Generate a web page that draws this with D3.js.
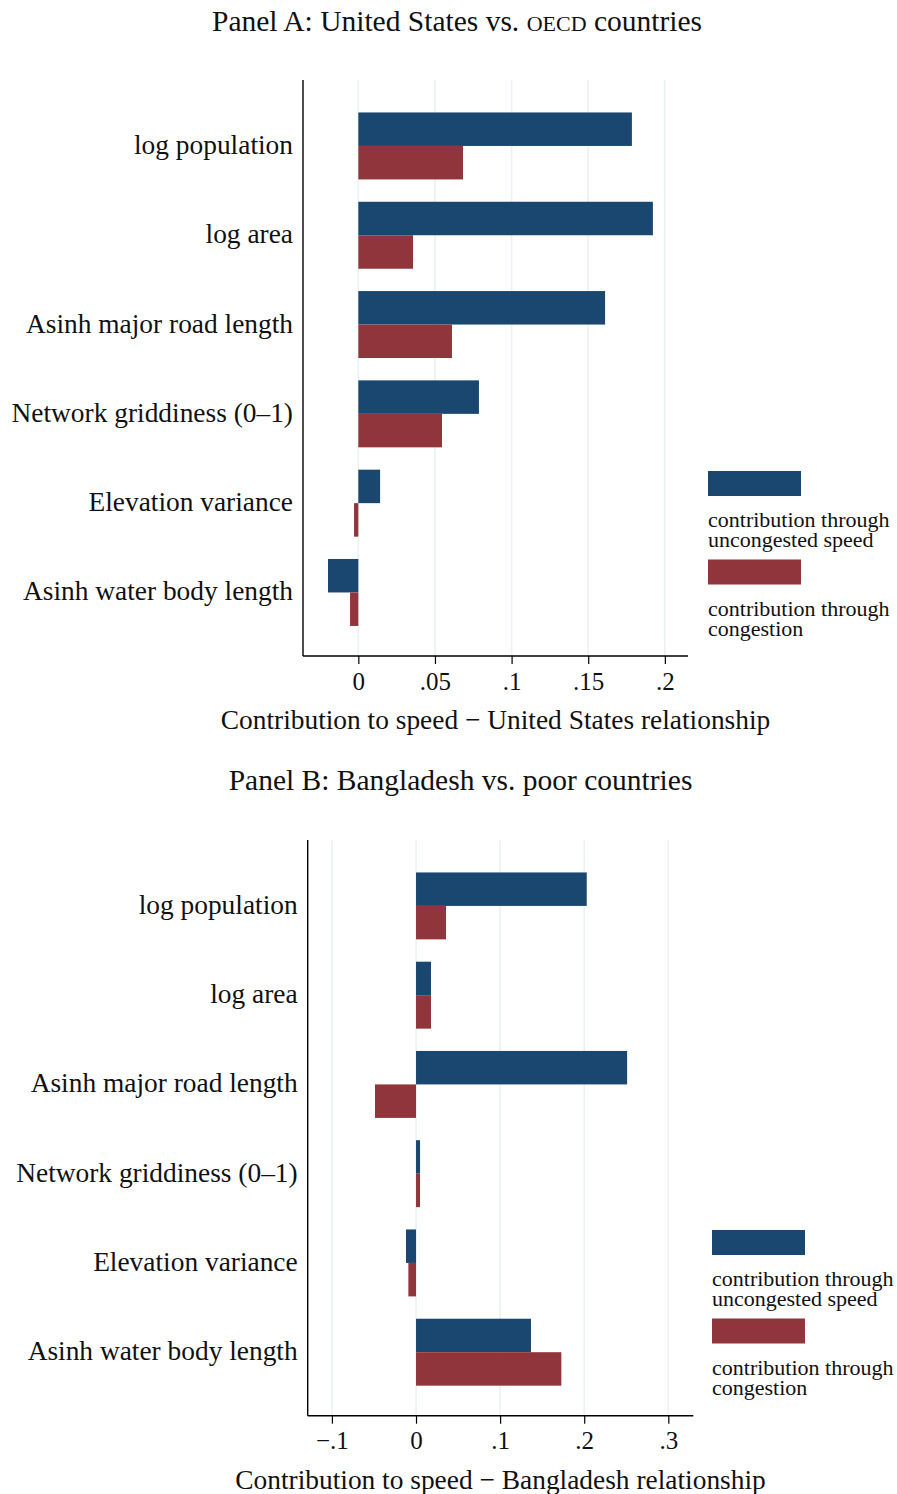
<!DOCTYPE html>
<html>
<head>
<meta charset="utf-8">
<script src="https://cdn.jsdelivr.net/npm/d3@7"></script>
<style>
  body { margin: 0; background: #fff; }
  svg text { font-family: "Liberation Serif", "Times New Roman", serif; fill: #111; }
</style>
</head>
<body>
<div id="chart"></div>
<script>
// Categories (top to bottom) and the two contributions for each panel.
const categories = [
  "log population",
  "log area",
  "Asinh major road length",
  "Network griddiness (0–1)",
  "Elevation variance",
  "Asinh water body length"
]
const seriesNames = ["contribution through uncongested speed", "contribution through congestion"]

const usUncongested = [0.1785, 0.1922, 0.161, 0.0787, 0.0142, -0.0198]
const usCongestion = [0.0683, 0.0357, 0.0611, 0.0546, -0.0028, -0.0054]
const usTicks = [0, 0.05, 0.1, 0.15, 0.2]

const bdUncongested = [0.203, 0.0178, 0.251, 0.0048, -0.0119, 0.1367]
const bdCongestion = [0.0357, 0.0178, -0.0488, 0.0048, -0.0091, 0.1728]
const bdTicks = [-0.1, 0, 0.1, 0.2, 0.3]

const colors = ["#1a476f", "#90353b"]

const svg = d3.select("#chart")
  .append("svg")
  .attr("width", 897)
  .attr("height", 1494)

// Stata style tick labels: ".05", "−.1"
const fmtTick = function (d) {
  if (d === 0) return "0"
  let s = String(Math.abs(d)).replace(/^0\./, ".")
  return (d < 0 ? "\u2212" : "") + s
}

const drawPanel = (opts) => {
  let g = svg.append("g")

  // Title, with "OECD" set in small caps style
  let title = g.append("text")
    .attr("x", opts.titleX)
    .attr("y", opts.titleY)
    .attr("text-anchor", "middle")
    .style("font-size", "29.5px")
  opts.title.forEach(function (part) {
    title.append("tspan")
      .style("font-size", part.sc ? "22px" : null)
      .text(part.text)
  })

  let x = d3.scaleLinear()
    .domain(opts.xDomain)
    .range([opts.left, opts.right])

  // bars sit about a pixel lower than the frame centre
  let y = d3.scaleBand()
    .domain(categories)
    .range([opts.top + 1.2, opts.bottom + 1.2])
    .paddingInner(0.25)
    .paddingOuter(0.35)

  let ySub = d3.scaleBand()
    .domain([0, 1])
    .range([0, y.bandwidth()])

  // Vertical grid lines at the ticks
  g.append("g")
    .selectAll("line")
    .data(opts.ticks)
    .join("line")
    .attr("x1", d => x(d))
    .attr("x2", d => x(d))
    .attr("y1", opts.top)
    .attr("y2", opts.bottom)
    .attr("stroke", "#eaf2f3")
    .attr("stroke-width", 1.6)

  // Bars
  let rows = categories.map(function (c, i) {
    return {cat: c, vals: [opts.uncongested[i], opts.congestion[i]]}
  })
  g.append("g")
    .selectAll("g")
    .data(rows)
    .join("g")
    .attr("transform", d => "translate(0," + y(d.cat) + ")")
    .selectAll("rect")
    .data(d => d.vals.map((v, k) => ({v: v, k: k})))
    .join("rect")
    .attr("x", d => x(Math.min(0, d.v)))
    .attr("width", d => Math.abs(x(d.v) - x(0)))
    .attr("y", d => ySub(d.k))
    .attr("height", ySub.bandwidth())
    .attr("fill", d => colors[d.k])

  // Category labels
  g.append("g")
    .selectAll("text")
    .data(categories)
    .join("text")
    .attr("x", opts.left - 10)
    .attr("y", d => y(d) + y.bandwidth() / 2 + 8)
    .attr("text-anchor", "end")
    .style("font-size", "27.4px")
    .text(d => d)

  // Y axis line
  g.append("line")
    .attr("x1", opts.left).attr("x2", opts.left)
    .attr("y1", opts.top).attr("y2", opts.bottom)
    .attr("stroke", "#000")
    .attr("stroke-width", 1.4)

  // X axis
  let xAxis = d3.axisBottom(x)
    .tickValues(opts.ticks)
    .tickFormat(fmtTick)
    .tickSize(8)
    .tickPadding(8)
  let ax = g.append("g")
    .attr("transform", "translate(0," + opts.bottom + ")")
    .call(xAxis)
  ax.select(".domain")
    .attr("d", "M" + opts.left + ",0H" + opts.right)
    .attr("stroke-width", 1.4)
  ax.selectAll(".tick line").attr("stroke-width", 1.2)
  ax.selectAll(".tick text")
    .attr("fill", "#111")
    .style("font-family", "Liberation Serif, serif")
    .style("font-size", "25px")

  g.append("text")
    .attr("x", (opts.left + opts.right) / 2)
    .attr("y", opts.bottom + 73)
    .attr("text-anchor", "middle")
    .style("font-size", "27.4px")
    .text(opts.xTitle)

  // Legend
  let lg = g.append("g")
    .selectAll("g")
    .data(seriesNames)
    .join("g")
    .attr("transform", (d, i) => "translate(" + opts.legendX + "," + (opts.legendY + i * 88.5) + ")")
  lg.append("rect")
    .attr("width", 93)
    .attr("height", 25)
    .attr("fill", (d, i) => colors[i])
  lg.append("text")
    .style("font-size", "22px")
    .selectAll("tspan")
    .data(d => ["contribution through", d.replace("contribution through ", "")])
    .join("tspan")
    .attr("x", 0)
    .attr("y", (d, i) => 56 + i * 20)
    .text(d => d)
}

drawPanel({
  title: [{text: "Panel A: United States vs. "}, {text: "OECD", sc: true}, {text: " countries"}],
  titleX: 457, titleY: 31,
  left: 303, right: 688, top: 80, bottom: 656,
  xDomain: [-0.0361, 0.2151],
  ticks: usTicks,
  uncongested: usUncongested,
  congestion: usCongestion,
  xTitle: "Contribution to speed \u2212 United States relationship",
  legendX: 708, legendY: 471
})

drawPanel({
  title: [{text: "Panel B: Bangladesh vs. poor countries"}],
  titleX: 460.5, titleY: 790,
  left: 307.7, right: 693.3, top: 840, bottom: 1415.7,
  xDomain: [-0.1288, 0.3297],
  ticks: bdTicks,
  uncongested: bdUncongested,
  congestion: bdCongestion,
  xTitle: "Contribution to speed \u2212 Bangladesh relationship",
  legendX: 712, legendY: 1230
})
</script>
</body>
</html>
